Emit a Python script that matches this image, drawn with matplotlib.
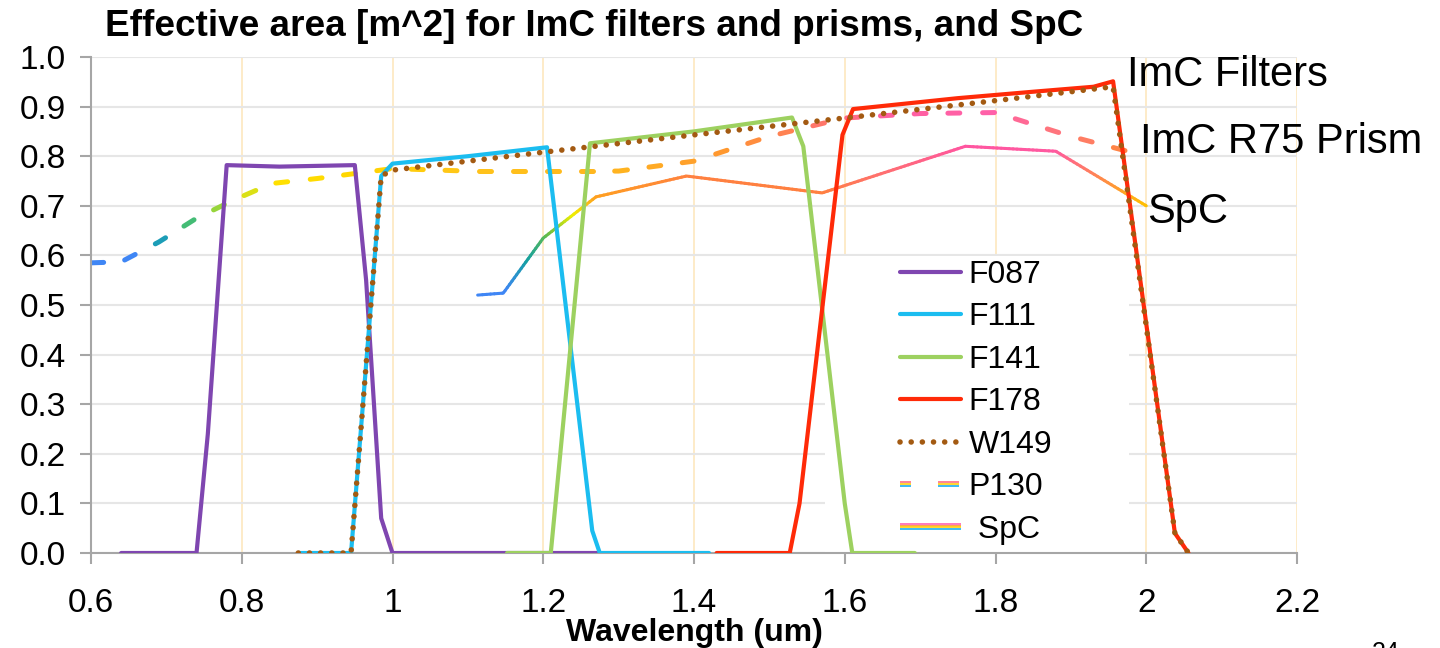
import numpy as np
import matplotlib
matplotlib.use("Agg")
import matplotlib.pyplot as plt
from matplotlib.collections import LineCollection
from matplotlib.colors import to_rgb
from matplotlib.legend_handler import HandlerBase
from matplotlib.lines import Line2D
from matplotlib.patches import Rectangle
from matplotlib.ticker import FuncFormatter, MultipleLocator

plt.rcParams['font.family'] = ['Liberation Sans', 'DejaVu Sans']

# Effective area curves, wavelength in um, area in m^2
f087_x = [0.64, 0.74, 0.755, 0.78, 0.85, 0.95, 0.965, 0.985, 1.0, 1.275]
f087_y = [0.0, 0.0, 0.24, 0.782, 0.779, 0.782, 0.55, 0.07, 0.0, 0.0]

f111_x = [0.875, 0.945, 0.985, 1.0, 1.1, 1.205, 1.265, 1.275, 1.42]
f111_y = [0.0, 0.0, 0.76, 0.785, 0.80, 0.818, 0.045, 0.0, 0.0]

f141_x = [1.152, 1.21, 1.262, 1.4, 1.53, 1.545, 1.60, 1.61, 1.693]
f141_y = [0.0, 0.0, 0.826, 0.85, 0.878, 0.82, 0.10, 0.0, 0.0]

f178_x = [1.43, 1.527, 1.54, 1.597, 1.611, 1.75, 1.85, 1.93, 1.956, 2.038, 2.056]
f178_y = [0.0, 0.0, 0.10, 0.843, 0.895, 0.917, 0.93, 0.94, 0.951, 0.04, 0.0]

w149_x = [0.875, 0.945, 0.985, 1.0, 1.2, 1.4, 1.6, 1.8, 1.956, 2.038, 2.056]
w149_y = [0.0, 0.0, 0.76, 0.772, 0.808, 0.843, 0.877, 0.912, 0.94, 0.04, 0.0]

p130_x = [0.60, 0.64, 0.69, 0.74, 0.79, 0.84, 0.90, 1.00, 1.10, 1.20, 1.30,
          1.40, 1.50, 1.60, 1.70, 1.80, 1.90, 2.00]
p130_y = [0.585, 0.587, 0.627, 0.675, 0.712, 0.745, 0.755, 0.775, 0.77, 0.77,
          0.77, 0.79, 0.84, 0.877, 0.886, 0.888, 0.84, 0.80]

spc_x = [1.113, 1.147, 1.20, 1.27, 1.39, 1.57, 1.76, 1.88, 2.00]
spc_y = [0.52, 0.524, 0.635, 0.718, 0.76, 0.726, 0.82, 0.81, 0.70]

legend_labels = ['F087', 'F111', 'F141', 'F178', 'W149', 'P130', ' SpC']

# rainbow colouring along the prism and SpC curves
P130_STOPS = [(0.60, '#3f86f5'), (0.66, '#3f86f5'), (0.70, '#14a3a8'),
              (0.745, '#5cc85c'), (0.79, '#c8e020'), (0.85, '#ffe000'),
              (0.97, '#ffd400'), (1.10, '#ffc41a'), (1.30, '#ffb420'),
              (1.45, '#ff9530'), (1.55, '#ff7a60'), (1.65, '#ff60a0'),
              (1.80, '#ff60a8'), (1.90, '#ff7a70'), (2.00, '#ff8a30')]
SPC_STOPS = [(1.11, '#3f86f5'), (1.15, '#3f86f5'), (1.18, '#14a0a0'),
             (1.21, '#70c040'), (1.24, '#f0f000'), (1.27, '#ffa020'),
             (1.40, '#ff8040'), (1.57, '#ff8040'), (1.65, '#ff7070'),
             (1.76, '#ff55a0'), (1.88, '#ff5aa0'), (1.95, '#ff9040'),
             (2.00, '#ffc000')]


def grad_color(x, stops):
    xs = [s[0] for s in stops]
    rgb = np.array([to_rgb(s[1]) for s in stops])
    return tuple(np.interp(x, xs, rgb[:, i]) for i in range(3))


def split_line(ax, xs, ys, on, off):
    """Cut a polyline into pieces (in screen pixels): dashes, or short runs when off=0."""
    pts = ax.transData.transform(np.column_stack([xs, ys]))
    fine = [pts[0]]
    for p0, p1 in zip(pts[:-1], pts[1:]):
        n = max(int(np.ceil(np.hypot(*(p1 - p0)))), 1)
        t = np.arange(1, n + 1) / n
        fine.extend(p0 + np.outer(t, p1 - p0))
    fine = np.array(fine)
    s = np.concatenate([[0], np.cumsum(np.hypot(*np.diff(fine, axis=0).T))])
    period = on + off
    k = np.floor(s / period).astype(int)
    keep = (s - k * period) <= on
    inv = ax.transData.inverted()
    out = []
    for j in np.unique(k[keep]):
        idx = np.where((k == j) & keep)[0]
        if off == 0 and idx[-1] + 1 < len(fine):
            idx = np.append(idx, idx[-1] + 1)
        if len(idx) < 2:
            continue
        out.append(inv.transform(fine[idx]))
    return out


def gradient_line(ax, xs, ys, stops, lw, on, off, z):
    segs = split_line(ax, xs, ys, on, off)
    cols = [grad_color(seg[:, 0].mean(), stops) for seg in segs]
    lc = LineCollection(segs, colors=cols, linewidths=lw, capstyle='round',
                        joinstyle='round', zorder=z)
    ax.add_collection(lc)


class StripeHandler(HandlerBase):
    def __init__(self, colors, dashed=False, **kw):
        super().__init__(**kw)
        self.colors = colors
        self.dashed = dashed

    def create_artists(self, legend, orig_handle, xdescent, ydescent,
                       width, height, fontsize, trans):
        x0 = -xdescent
        yc = (height - ydescent) / 2
        parts = [(0.0, 0.18), (0.62, 0.98)] if self.dashed else [(0.0, 1.0)]
        n = len(self.colors)
        arts = []
        for i, c in enumerate(self.colors):
            y = yc + ((n - 1) / 2 - i) * 1.2
            for a, b in parts:
                arts.append(Line2D([x0 + a * width, x0 + b * width], [y, y],
                                   color=c, lw=1.3, solid_capstyle='butt',
                                   transform=trans))
        return arts


fig = plt.figure(figsize=(14.4, 6.48), dpi=100)
ax = fig.add_axes([91 / 1440, 1 - 553 / 648, 1206 / 1440, 496 / 648])
ax.set_xlim(0.6, 2.2)
ax.set_ylim(0, 1.0)

ax.xaxis.set_major_locator(MultipleLocator(0.2))
ax.yaxis.set_major_locator(MultipleLocator(0.1))
ax.xaxis.set_major_formatter(FuncFormatter(lambda v, p: f'{v:g}'))
ax.yaxis.set_major_formatter(FuncFormatter(lambda v, p: f'{v:.1f}'))
ax.set_axisbelow(True)
ax.yaxis.grid(True, color='#e6e6e6', lw=1.5)
ax.xaxis.grid(True, color='#fde7bf', lw=1.2)

for side in ['top', 'right']:
    ax.spines[side].set_visible(False)
for side in ['left', 'bottom']:
    ax.spines[side].set_color('#a6a6a6')
    ax.spines[side].set_linewidth(1.5)
ax.tick_params(axis='both', direction='out', length=8, width=1.5,
               color='#a6a6a6', labelsize=24)
ax.tick_params(axis='y', pad=10)
ax.tick_params(axis='x', pad=17)

# white backing behind the legend hides the gridlines there
ax.add_patch(Rectangle((0.609, 0.0), 0.252, 0.598, transform=ax.transAxes,
                       facecolor='white', edgecolor='none', zorder=1))

gradient_line(ax, p130_x, p130_y, P130_STOPS, 3.6, 13, 21, 2.0)
gradient_line(ax, spc_x, spc_y, SPC_STOPS, 2.2, 4, 0, 2.1)

line_kw = dict(lw=3, solid_capstyle='round', solid_joinstyle='round')
ax.plot(f087_x, f087_y, color='#7f46b0', zorder=3, **line_kw)
ax.plot(f111_x, f111_y, color='#1bbdf0', zorder=3.1, **line_kw)
ax.plot(f141_x, f141_y, color='#9dd160', zorder=3.2, **line_kw)
ax.plot(f178_x, f178_y, color='#ff2a08', zorder=3.3, **line_kw)
ax.plot(w149_x, w149_y, color='#a35a12', lw=4, linestyle=(0, (0.01, 2.0)),
        dash_capstyle='round', zorder=3.4)

ax.text(1.974, 0.964, 'ImC Filters', fontsize=30, va='center', clip_on=False)
ax.text(1.992, 0.829, 'ImC R75 Prism', fontsize=30, va='center', clip_on=False)
ax.text(2.001, 0.688, 'SpC', fontsize=30, va='center', clip_on=False)

fig.text(694 / 1440, 1 - 633 / 648, 'Wavelength (um)', fontsize=23,
         fontweight='bold', ha='center', va='center')
fig.text(105 / 1440, 1 - 26 / 648,
         'Effective area [m^2] for ImC filters and prisms, and SpC',
         fontsize=26.6, fontweight='bold', va='center', ha='left')
fig.text(1372 / 1440, 1 - 641 / 648, '24', fontsize=18, va='top', ha='left')

h_p130 = Line2D([], [])
h_spc = Line2D([], [])
handles = [
    Line2D([], [], color='#7f46b0', lw=3, solid_capstyle='round'),
    Line2D([], [], color='#1bbdf0', lw=3, solid_capstyle='round'),
    Line2D([], [], color='#9dd160', lw=3, solid_capstyle='round'),
    Line2D([], [], color='#ff2a08', lw=3, solid_capstyle='round'),
    Line2D([], [], color='#a35a12', lw=4, linestyle=(0, (0.01, 2.0)),
           dash_capstyle='round'),
    h_p130,
    h_spc,
]
ax.legend(handles, legend_labels, loc='upper left',
          bbox_to_anchor=(900 / 1440, 1 - 260 / 648),
          bbox_transform=fig.transFigure, frameon=False, fontsize=23,
          handlelength=1.9, handletextpad=0.25, labelspacing=0.39,
          borderpad=0, borderaxespad=0,
          handler_map={
              h_p130: StripeHandler(['#ff7a8a', '#ffd21f', '#2fb5f0'], dashed=True),
              h_spc: StripeHandler(['#ff6fb5', '#ff9a3a', '#ffd21f', '#2fb5f0']),
          })

fig.savefig('out.png', dpi=100)
